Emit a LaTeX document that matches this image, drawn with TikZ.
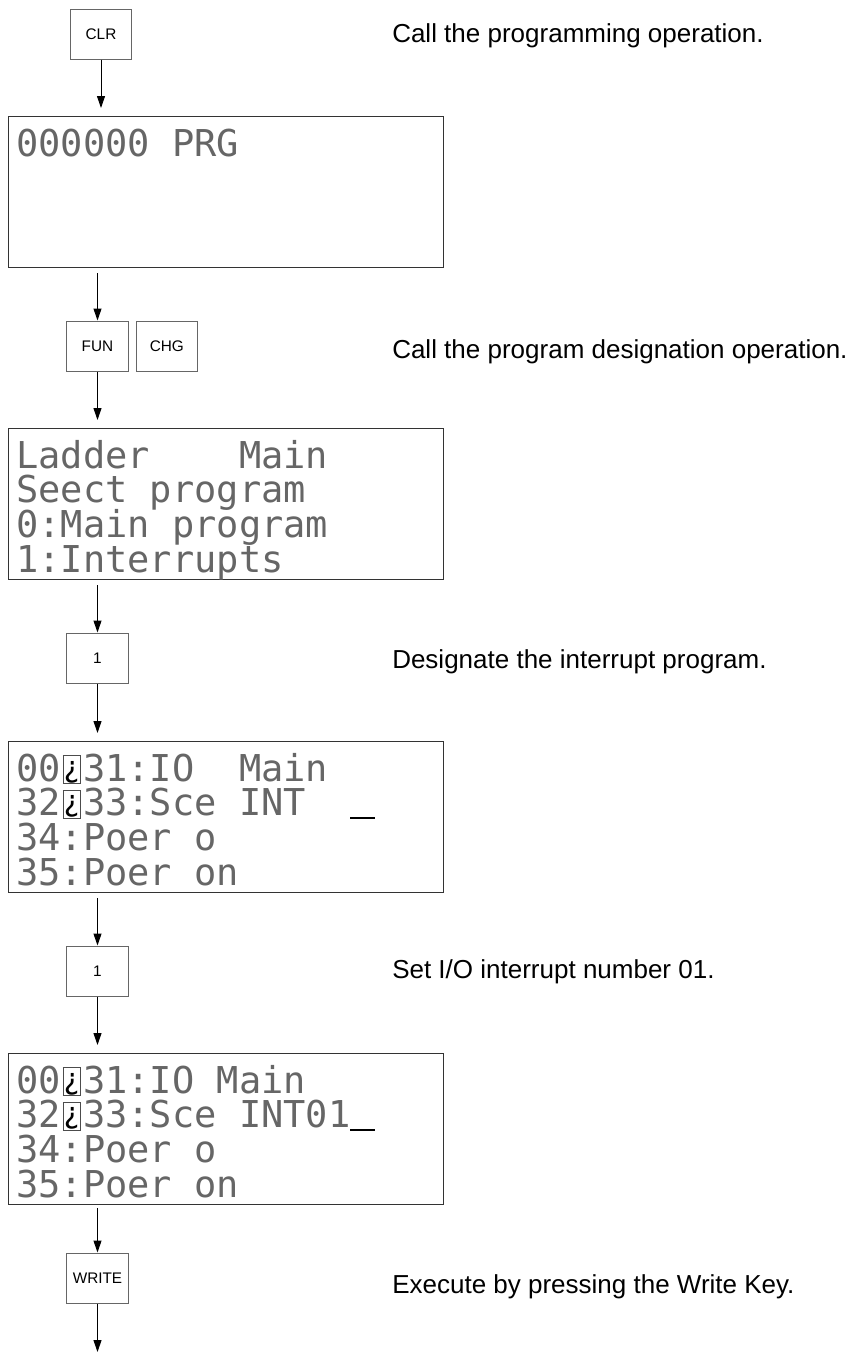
\documentclass[tikz,border=0pt]{standalone}
\usepackage{fontspec}
\setmainfont{Liberation Sans}
\newfontfamily\lcdfont{DejaVu Sans Mono}
\usetikzlibrary{arrows.meta,positioning,calc}

% inverted cell on the display and the cursor
\newcommand\lcdinv{\makebox[\fontcharwd\font`0]{\setlength\fboxsep{0pt}\setlength\fboxrule{0.9pt}%
  \fcolorbox{black!70}{white}{\makebox[12pt]{\rule[-1.5pt]{0pt}{20pt}\color{black}\fontsize{22}{22}\selectfont\raisebox{3pt}{¿}}}}}
\newcommand\lcdcursor{\textcolor{black}{\rule[-2.25pt]{18.75pt}{1.5pt}}}

\begin{document}
\begin{tikzpicture}[
    x=0.75pt, y=-0.75pt,
    key/.style={rectangle, draw=black!60, line width=0.75pt, minimum width=46pt, minimum height=37.5pt, inner sep=0pt, font=\fontsize{11.5}{13}\selectfont},
    lcd/.style={rectangle, draw=black!80, line width=0.75pt, minimum width=326.25pt, minimum height=113.25pt, anchor=north west},
    lcdline/.style={anchor=base west, inner sep=0pt, text=black!60, font=\lcdfont\fontsize{27.75}{27.75}\selectfont},
    note/.style={anchor=base west, inner sep=0pt, font=\fontsize{19.5}{23}\selectfont},
    >={Triangle[length=9pt, width=6pt]}
]
\useasboundingbox (0,0) rectangle (858,1353);

\node[key] (clr) at (101,34) {CLR};
\node[lcd] (disp1) at (8,116) {};
\node[lcdline] (disp1-1) at ($(disp1.north west)+(8,40)$) {000000 PRG};

\node[key] (fun) at (97.5,346) {FUN};
\node[key, right=5.25pt of fun] (chg) {CHG};
\node[lcd] (disp2) at (8,428) {};
\foreach \txt [count=\i] in {Ladder~~~~Main, Seect program, 0:Main program, 1:Interrupts}
  \node[lcdline] (disp2-\i) at ($(disp2.north west)+(8,5.3+34.7*\i)$) {\txt};

\node[key] (one) at (97.5,658) {1};
\node[lcd] (disp3) at (8,741) {};
\foreach \txt [count=\i] in {00\lcdinv31:IO~~Main, 32\lcdinv33:Sce~INT~~\lcdcursor, 34:Poer~o, 35:Poer~on}
  \node[lcdline] (disp3-\i) at ($(disp3.north west)+(8,5.3+34.7*\i)$) {\txt};

\node[key] (two) at (97.5,971) {1};
\node[lcd] (disp4) at (8,1053) {};
\foreach \txt [count=\i] in {00\lcdinv31:IO~Main, 32\lcdinv33:Sce~INT01\lcdcursor, 34:Poer~o, 35:Poer~on}
  \node[lcdline] (disp4-\i) at ($(disp4.north west)+(8,5.3+34.7*\i)$) {\txt};

\node[key] (write) at (97.5,1278) {WRITE};
\coordinate (end) at (97.5,1352);

% texts on the right
\node[note] (note1) at (392,42) {Call the programming operation.};
\node[note] (note2) at (392,358) {Call the program designation operation.};
\node[note] (note3) at (392,668) {Designate the interrupt program.};
\node[note] (note4) at (392,978) {Set I/O interrupt number 01.};
\node[note] (note5) at (392,1293) {Execute by pressing the Write Key.};

% arrows
\draw[->, line width=0.75pt, shorten >=6pt] (clr) -- (clr |- disp1.north);
\draw[->, line width=0.75pt, shorten <=3.75pt] (fun |- disp1.south) -- (fun);
\draw[->, line width=0.75pt, shorten >=6pt] (fun) -- (fun |- disp2.north);
\draw[->, line width=0.75pt, shorten <=3.75pt] (one |- disp2.south) -- (one);
\draw[->, line width=0.75pt, shorten >=6pt] (one) -- (one |- disp3.north);
\draw[->, line width=0.75pt, shorten <=3.75pt] (two |- disp3.south) -- (two);
\draw[->, line width=0.75pt, shorten >=6pt] (two) -- (two |- disp4.north);
\draw[->, line width=0.75pt, shorten <=2.25pt] (write |- disp4.south) -- (write);
\draw[->, line width=0.75pt] (write) -- (end);
\end{tikzpicture}
\end{document}
